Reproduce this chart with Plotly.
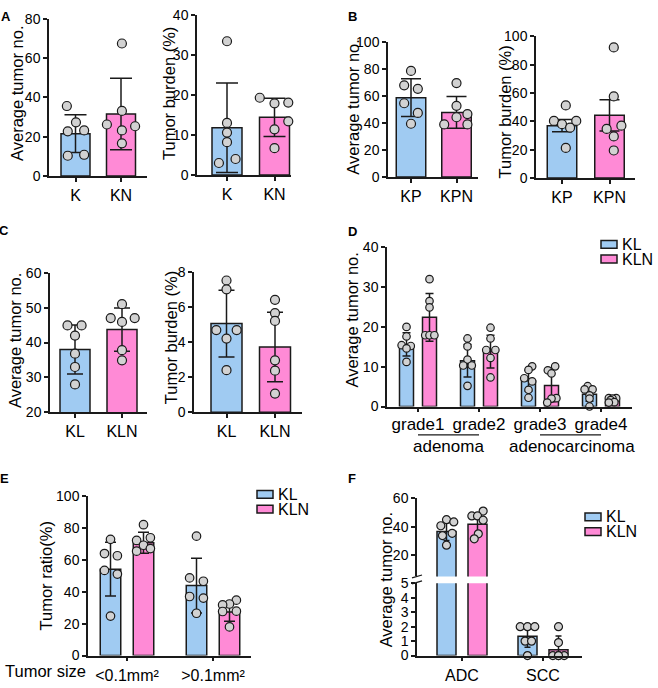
import plotly.graph_objects as go

W, H = 658, 688
BLUE = "#a0cbf2"
PINK = "#ff8ad6"
DOT = "#d2d2d2"
INK = "#1a1a1a"
FONT = "Arial, Liberation Sans, sans-serif"

# ---------------- data ----------------
# A: K vs KN
a_groups = ["K", "KN"]
a_no_mean = [21.5, 31.5]
a_no_sd = [9.6, 18.2]
a_no_k = [35.6, 27.3, 22.7, 23.2, 10.3, 10.8]
a_no_kn = [67.4, 33.1, 26.2, 25.3, 23.2, 16.6]
a_bu_mean = [11.8, 14.4]
a_bu_sd = [11.2, 4.8]
a_bu_k = [33.4, 13.0, 10.6, 8.2, 3.0, 4.0]
a_bu_kn = [19.3, 17.9, 18.1, 13.4, 11.4, 6.7]

# B: KP vs KPN
b_groups = ["KP", "KPN"]
b_no_mean = [58.8, 47.9]
b_no_sd = [14.0, 11.8]
b_no_kp = [78.7, 68.0, 65.4, 54.7, 47.5, 39.5]
b_no_kpn = [69.7, 52.8, 46.7, 44.3, 39.0, 39.0]
b_bu_mean = [36.9, 44.2]
b_bu_sd = [4.3, 11.1]
b_bu_kp = [51.2, 40.3, 40.3, 38.0, 35.5, 21.2]
b_bu_kpn = [92.2, 57.6, 36.9, 34.6, 29.3, 19.4]

# C: KL vs KLN
c_groups = ["KL", "KLN"]
c_no_mean = [38.0, 43.7]
c_no_sd = [7.0, 6.2]
c_no_kl = [44.9, 44.9, 42.0, 36.8, 33.0, 28.0]
c_no_kln = [51.0, 47.0, 47.0, 45.9, 37.8, 34.9]
c_bu_mean = [5.05, 3.72]
c_bu_sd = [1.9, 1.98]
c_bu_kl = [7.5, 7.0, 4.68, 4.68, 4.2, 2.4]
c_bu_kln = [6.4, 5.65, 5.2, 2.96, 2.37, 1.07]

# D: tumor grade
d_grades = ["grade1", "grade2", "grade3", "grade4"]
d_kl_mean = [15.6, 11.5, 6.5, 3.1]
d_kl_sd = [2.9, 4.1, 2.6, 1.8]
d_kln_mean = [22.4, 13.8, 5.3, 1.6]
d_kln_sd = [6.0, 4.1, 4.1, 0.5]
d_kl_pts = [[20.0, 17.6, 15.4, 15.2, 14.6, 11.2],
            [17.1, 15.1, 11.8, 10.3, 10.3, 5.2],
            [10.1, 9.2, 7.1, 6.3, 4.2, 2.2],
            [5.1, 4.3, 4.3, 2.8, 2.0, 0.0]]
d_kln_pts = [[32.0, 26.5, 24.9, 17.9, 17.9, 17.9],
             [19.8, 17.1, 14.2, 14.2, 12.2, 7.3],
             [10.1, 9.1, 8.3, 2.1, 2.0, 1.0],
             [2.1, 2.1, 2.0, 1.6, 1.1, 1.0]]

# E: tumor size ratio
e_sizes = ["<0.1mm²", ">0.1mm²"]
e_kl_mean = [54.3, 44.0]
e_kl_sd = [16.9, 17.2]
e_kln_mean = [70.9, 27.3]
e_kln_sd = [6.6, 5.7]
e_kl_pts = [[73.0, 64.1, 62.7, 53.5, 51.2, 24.8],
            [75.0, 48.8, 46.7, 37.1, 36.1, 26.6]]
e_kln_pts = [[82.2, 74.0, 72.3, 69.3, 67.2, 65.6],
             [34.8, 32.4, 31.8, 27.9, 27.7, 18.0]]

# F: histology
f_types = ["ADC", "SCC"]
f_kl_mean = [36.6, 1.33]
f_kl_sd = [6.2, 0.75]
f_kln_mean = [41.8, 0.4]
f_kln_sd = [5.8, 0.95]
f_kl_adc = [45.0, 43.4, 40.7, 35.4, 33.8, 27.0]
f_kln_adc = [51.0, 47.6, 47.6, 44.6, 35.0, 31.5]
f_kl_scc = [2.0, 2.0, 2.0, 1.0, 1.0, 0.0]
f_kln_scc = [2.0, 0.9, 0.0, 0.0, 0.0, 0.0]

# horizontal scatter of the dots (in category units)
a_no_k_dx = [-0.19, 0.01, -0.17, 0.19, -0.17, 0.19]
a_no_kn_dx = [0.02, 0.02, -0.31, 0.31, 0.02, 0.02]
a_bu_k_dx = [0, 0, 0, 0, -0.17, 0.18]
a_bu_kn_dx = [-0.31, 0, 0.29, 0.29, 0, 0]
b_no_kp_dx = [0, -0.15, 0.15, -0.15, 0.15, 0]
b_no_kpn_dx = [0, 0, 0.24, 0, -0.27, 0.24]
b_bu_kp_dx = [0.08, -0.17, 0.3, 0, 0.17, 0.08]
b_bu_kpn_dx = [0.09, 0.09, 0.25, -0.06, 0.09, 0.09]
c_no_kl_dx = [-0.16, 0.14, 0, 0, 0, 0]
c_no_kln_dx = [0, -0.24, 0.27, 0, 0, 0]
c_bu_kl_dx = [0, 0, -0.21, 0.21, 0, 0]
c_bu_kln_dx = [0, 0, 0, 0, 0, 0]
d_kl_dx = [[0, 0, -0.08, 0.07, 0, 0], [0, 0, 0, -0.07, 0.07, 0],
           [0.06, 0, -0.07, 0.06, 0, 0], [-0.03, -0.08, 0.05, 0, 0, 0]]
d_kln_dx = [[0, 0, 0, -0.07, 0, 0.08], [0, 0, -0.07, 0.08, 0, 0],
            [0.06, -0.06, 0, 0.08, 0, -0.07], [-0.06, 0.06, 0, -0.03, 0.03, -0.06]]
e_kl_dx = [[0, -0.07, 0.08, -0.07, 0.08, 0], [0, -0.08, 0.08, -0.08, 0.08, 0]]
e_kln_dx = [[0, 0.08, -0.08, 0, 0.08, -0.08], [0.08, 0, -0.08, 0.08, -0.08, 0]]
f_kl_adc_dx = [0, 0.09, -0.07, 0.07, -0.05, 0]
f_kln_adc_dx = [0.07, -0.07, 0, 0.07, 0.01, -0.04]
f_kl_scc_dx = [-0.09, 0, 0.09, -0.03, 0.05, 0]
f_kln_scc_dx = [0, 0, -0.07, 0, 0.07, 0]

fig = go.Figure()


def dots(x0, vals, dx, xa, ya, size=9):
    fig.add_trace(go.Scatter(
        x=[x0 + d for d in dx], y=vals, mode="markers", xaxis=xa, yaxis=ya,
        marker=dict(size=size, color=DOT, line=dict(color=INK, width=1.2)),
        cliponaxis=False, showlegend=False, hoverinfo="y"))


def bars(x, mean, sd, color, xa, ya, width, cap):
    fig.add_trace(go.Bar(
        x=x, y=mean, width=width, xaxis=xa, yaxis=ya, showlegend=False,
        marker=dict(color=color, line=dict(color=INK, width=1.5)),
        error_y=dict(type="data", array=sd, color=INK, thickness=1.5, width=cap)))


# two-group panels: (key, means, sds, pts1, dx1, pts2, dx2, bar width, cap)
pairs = [
    ("", a_no_mean, a_no_sd, a_no_k, a_no_k_dx, a_no_kn, a_no_kn_dx, 29 / 45.5, 11),
    ("2", a_bu_mean, a_bu_sd, a_bu_k, a_bu_k_dx, a_bu_kn, a_bu_kn_dx, 30 / 47.5, 11),
    ("3", b_no_mean, b_no_sd, b_no_kp, b_no_kp_dx, b_no_kpn, b_no_kpn_dx, 29.5 / 45.5, 10),
    ("4", b_bu_mean, b_bu_sd, b_bu_kp, b_bu_kp_dx, b_bu_kpn, b_bu_kpn_dx, 29.5 / 47.5, 10),
    ("5", c_no_mean, c_no_sd, c_no_kl, c_no_kl_dx, c_no_kln, c_no_kln_dx, 30 / 47, 8),
    ("6", c_bu_mean, c_bu_sd, c_bu_kl, c_bu_kl_dx, c_bu_kln, c_bu_kln_dx, 31 / 48.5, 8),
]
for k, m, s, p1, dx1, p2, dx2, bw, cap in pairs:
    bars([0, 1], m, s, [BLUE, PINK], "x" + k, "y" + k, bw, cap)
    dots(0, p1, dx1, "x" + k, "y" + k)
    dots(1, p2, dx2, "x" + k, "y" + k)

# D grouped
d_off = 11.5 / 61
idx = list(range(len(d_grades)))
bars([i - d_off for i in idx], d_kl_mean, d_kl_sd, BLUE, "x7", "y7", 14 / 61, 4)
bars([i + d_off for i in idx], d_kln_mean, d_kln_sd, PINK, "x7", "y7", 14 / 61, 4)
for i in idx:
    dots(i - d_off, d_kl_pts[i], d_kl_dx[i], "x7", "y7", 7.5)
    dots(i + d_off, d_kln_pts[i], d_kln_dx[i], "x7", "y7", 7.5)

# E grouped
e_off = 16.5 / 86
idx = list(range(len(e_sizes)))
bars([i - e_off for i in idx], e_kl_mean, e_kl_sd, BLUE, "x8", "y8", 20.5 / 86, 5.5)
bars([i + e_off for i in idx], e_kln_mean, e_kln_sd, PINK, "x8", "y8", 20.5 / 86, 5.5)
for i in idx:
    dots(i - e_off, e_kl_pts[i], e_kl_dx[i], "x8", "y8", 8.5)
    dots(i + e_off, e_kln_pts[i], e_kln_dx[i], "x8", "y8", 8.5)

# F grouped with broken axis (y10 = upper part, y9 = lower part)
f_off = 15.5 / 81
idx = list(range(len(f_types)))
for ya in ("y9", "y10"):
    bars([i - f_off for i in idx], f_kl_mean, f_kl_sd, BLUE, "x9", ya, 19 / 81, 3)
    bars([i + f_off for i in idx], f_kln_mean, f_kln_sd, PINK, "x9", ya, 19 / 81, 3)
dots(0 - f_off, f_kl_adc, f_kl_adc_dx, "x9", "y10", 8)
dots(0 + f_off, f_kln_adc, f_kln_adc_dx, "x9", "y10", 8)
dots(1 - f_off, f_kl_scc, f_kl_scc_dx, "x9", "y9", 8)
dots(1 + f_off, f_kln_scc, f_kln_scc_dx, "x9", "y9", 8)

# ---------------- layout ----------------
base = dict(showline=True, linecolor=INK, linewidth=1.5, ticks="outside", ticklen=4,
            tickwidth=1.5, tickcolor=INK, showgrid=False, zeroline=False,
            tickfont=dict(size=14, color="black", family=FONT), fixedrange=True)


def xax(left, right, c0, sp, labels, anchor, size=16, standoff=0):
    return dict(base, domain=[left / W, right / W], anchor=anchor,
                range=[(left - c0) / sp, (right - c0) / sp],
                tickvals=list(range(len(labels))), ticktext=labels,
                ticklabelstandoff=standoff,
                tickfont=dict(size=size, color="black", family=FONT))


def yax(top, bottom, lo, hi, step, anchor, vals=None):
    d = dict(base, domain=[1 - bottom / H, 1 - top / H], anchor=anchor,
             range=[lo, hi], tick0=lo, dtick=step)
    if vals is not None:
        d.update(tickmode="array", tickvals=vals)
    return d


layout = dict(
    width=W, height=H, margin=dict(l=0, r=0, t=0, b=0),
    paper_bgcolor="white", plot_bgcolor="white", showlegend=False,
    font=dict(family=FONT, color="black"), barmode="overlay",
    xaxis=xax(49, 147, 75.5, 45.5, a_groups, "y"),
    yaxis=yax(11, 172, 0, 80, 20, "x"),
    xaxis2=xax(197, 291, 227, 47.5, a_groups, "y2"),
    yaxis2=yax(7, 171, 0, 40, 10, "x2"),
    xaxis3=xax(388, 478, 411, 45.5, b_groups, "y3"),
    yaxis3=yax(35, 173, 0, 100, 20, "x3"),
    xaxis4=xax(536, 635, 562, 47.5, b_groups, "y4"),
    yaxis4=yax(29, 174, 0, 100, 20, "x4"),
    xaxis5=xax(50, 147, 75, 47, c_groups, "y5"),
    yaxis5=yax(271, 414, 20, 60, 10, "x5"),
    xaxis6=xax(194, 302, 226.5, 48.5, c_groups, "y6"),
    yaxis6=yax(270, 414, 0, 8, 2, "x6"),
    xaxis7=xax(387, 632, 418, 61, d_grades, "y7", 17, -3),
    yaxis7=yax(245, 408, 0, 40, 10, "x7"),
    xaxis8=xax(88, 251, 127, 86, e_sizes, "y8"),
    yaxis8=yax(500, 663, 0, 100, 20, "x8"),
    xaxis9=xax(417, 582, 462, 81, f_types, "y9"),
    yaxis9=yax(589, 663, 0, 5, 1, "x9"),
    yaxis10=yax(502, 582, 5, 60, 20, "x9", vals=[20, 40, 60]),
)


def ann(text, x, y, size=16.5, angle=0, bold=False, xanchor="center", height=None):
    a = dict(text="<b>%s</b>" % text if bold else text, x=x / W, y=1 - y / H,
             xref="paper", yref="paper", showarrow=False, textangle=angle,
             xanchor=xanchor, yanchor="middle", font=dict(size=size, family=FONT, color="black"))
    if height:
        a["height"] = height
        a["borderpad"] = 0
    return a


annotations = [
    ann("A", 6, 9, 13, bold=True), ann("B", 352, 9, 13, bold=True),
    ann("C", 4, 228, 13, bold=True), ann("D", 352, 229, 13, bold=True),
    ann("E", 4, 482, 13, bold=True), ann("F", 352, 482, 13, bold=True),
    ann("Average tumor no.", 17, 88, angle=-90),
    ann("Tumor burden (%)", 169, 88, angle=-90),
    ann("Average tumor no.", 353, 102, angle=-90),
    ann("Tumor burden (%)", 505, 107, angle=-90),
    ann("Average tumor no.", 15, 341, angle=-90),
    ann("Tumor burden (%)", 171, 338, angle=-90),
    ann("Average tumor no.", 352, 320, angle=-90),
    ann("Tumor ratio(%)", 46, 582, angle=-90),
    ann("Average tumor no.", 386, 586, angle=-90),
    ann("adenoma", 448, 449, 17), ann("adenocarcinoma", 572, 449, 17),
    ann("Tumor size", 3, 679, 16.5, xanchor="left"),
]

shapes = []
# category brackets under panel D
for a, b in ((0, 1), (2, 3)):
    shapes.append(dict(type="line", xref="x7", yref="paper", x0=a, x1=b,
                       y0=1 - 437 / H, y1=1 - 437 / H, line=dict(color=INK, width=1.2)))

# manual legends for D, E, F
for lx, ly, gap in ((601, 242, 15), (257, 498, 15), (585, 521, 15)):
    for j, (name, col) in enumerate((("KL", BLUE), ("KLN", PINK))):
        yc = ly + j * gap
        shapes.append(dict(type="rect", xref="paper", yref="paper",
                           x0=lx / W, x1=(lx + 16) / W, y0=1 - (yc + 4) / H, y1=1 - (yc - 4) / H,
                           fillcolor=col, line=dict(color=INK, width=1.5)))
        annotations.append(ann(name, lx + 20, yc, 16, xanchor="left", height=15))

# axis break marks in F
for yb in (582, 588):
    shapes.append(dict(type="line", xref="paper", yref="paper",
                       x0=412 / W, x1=422 / W, y0=1 - (yb + 1.5) / H, y1=1 - (yb - 1.5) / H,
                       line=dict(color=INK, width=1.3)))

layout["annotations"] = annotations
layout["shapes"] = shapes
fig.update_layout(**layout)

# the page's default body margin would shift the fixed-size figure by 8px
fig.write_html("out.html", config={"displayModeBar": False},
               post_script="document.body.style.margin='0px';")
